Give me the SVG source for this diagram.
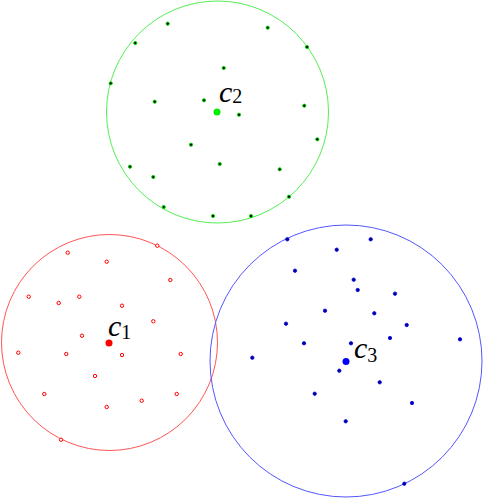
<svg xmlns="http://www.w3.org/2000/svg" width="483" height="499" viewBox="0 0 483 499">
<style>
.bound{fill:none;stroke-width:1}
.g{stroke:#55ee55}
.r{stroke:#ff5555}
.b{stroke:#5555ff}
.gp{fill:#000;stroke:#00dd00;stroke-width:1}
.rp{fill:#fff;stroke:#ff0000;stroke-width:1}
.bp{fill:#000080;stroke:#0000ff;stroke-width:0.8}
.lab{font-family:"Liberation Serif",serif;fill:#000}
.c{font-style:italic;font-size:30px}
.n{font-size:20px}
</style>
<rect width="483" height="499" fill="#fff"/>
<g id="cluster2">
<circle class="bound g" cx="217.5" cy="112" r="111"/>
<g>
<circle class="gp" cx="167.7" cy="23.7" r="1.6"/>
<circle class="gp" cx="267.7" cy="27.7" r="1.6"/>
<circle class="gp" cx="135.3" cy="43" r="1.6"/>
<circle class="gp" cx="307" cy="47" r="1.6"/>
<circle class="gp" cx="223.7" cy="68" r="1.6"/>
<circle class="gp" cx="110.7" cy="83.3" r="1.6"/>
<circle class="gp" cx="154.7" cy="101.7" r="1.6"/>
<circle class="gp" cx="204" cy="100.3" r="1.6"/>
<circle class="gp" cx="304.3" cy="105.7" r="1.6"/>
<circle class="gp" cx="239" cy="114.7" r="1.6"/>
<circle class="gp" cx="317.3" cy="139.3" r="1.6"/>
<circle class="gp" cx="191" cy="144.7" r="1.6"/>
<circle class="gp" cx="219.7" cy="164" r="1.6"/>
<circle class="gp" cx="130" cy="166.7" r="1.6"/>
<circle class="gp" cx="279.7" cy="169.3" r="1.6"/>
<circle class="gp" cx="153.3" cy="177" r="1.6"/>
<circle class="gp" cx="289" cy="196.7" r="1.6"/>
<circle class="gp" cx="163.7" cy="207" r="1.6"/>
<circle class="gp" cx="213" cy="216" r="1.6"/>
<circle class="gp" cx="251" cy="216" r="1.6"/>
</g>
<circle cx="217" cy="112" r="3.5" fill="#00ee00"/>
<text class="lab" x="219" y="101.7"><tspan class="c">c</tspan><tspan class="n" dy="1.5">2</tspan></text>
</g>
<g id="cluster1">
<circle class="bound r" cx="109.5" cy="342.5" r="108"/>
<g>
<circle class="rp" cx="157.3" cy="245.7" r="1.7"/>
<circle class="rp" cx="67.7" cy="252.7" r="1.7"/>
<circle class="rp" cx="106.7" cy="261.7" r="1.7"/>
<circle class="rp" cx="170.3" cy="280" r="1.7"/>
<circle class="rp" cx="28.7" cy="296.7" r="1.7"/>
<circle class="rp" cx="58.7" cy="303" r="1.7"/>
<circle class="rp" cx="79.3" cy="296.7" r="1.7"/>
<circle class="rp" cx="122" cy="305.7" r="1.7"/>
<circle class="rp" cx="153.3" cy="321.3" r="1.7"/>
<circle class="rp" cx="82" cy="335.7" r="1.7"/>
<circle class="rp" cx="18.3" cy="352.7" r="1.7"/>
<circle class="rp" cx="66.3" cy="354" r="1.7"/>
<circle class="rp" cx="122" cy="355" r="1.7"/>
<circle class="rp" cx="180.7" cy="354" r="1.7"/>
<circle class="rp" cx="95" cy="376" r="1.7"/>
<circle class="rp" cx="44.3" cy="394" r="1.7"/>
<circle class="rp" cx="176.7" cy="394" r="1.7"/>
<circle class="rp" cx="141.7" cy="400.7" r="1.7"/>
<circle class="rp" cx="106.7" cy="407" r="1.7"/>
<circle class="rp" cx="61" cy="439.7" r="1.7"/>
</g>
<circle cx="109" cy="343" r="3.5" fill="#ff0000"/>
<text class="lab" x="108" y="336"><tspan class="c">c</tspan><tspan class="n" dy="3">1</tspan></text>
</g>
<g id="cluster3">
<circle class="bound b" cx="346" cy="361" r="136"/>
<g>
<circle class="bp" cx="287.3" cy="239.3" r="1.7"/>
<circle class="bp" cx="370.7" cy="239.3" r="1.7"/>
<circle class="bp" cx="336.7" cy="249.7" r="1.7"/>
<circle class="bp" cx="295" cy="270.7" r="1.7"/>
<circle class="bp" cx="353.7" cy="279.7" r="1.7"/>
<circle class="bp" cx="357.7" cy="290" r="1.7"/>
<circle class="bp" cx="395" cy="293.7" r="1.7"/>
<circle class="bp" cx="325" cy="310.7" r="1.7"/>
<circle class="bp" cx="374.3" cy="313.3" r="1.7"/>
<circle class="bp" cx="286" cy="323.7" r="1.7"/>
<circle class="bp" cx="406.7" cy="325" r="1.7"/>
<circle class="bp" cx="390" cy="338" r="1.7"/>
<circle class="bp" cx="460" cy="339.3" r="1.7"/>
<circle class="bp" cx="304" cy="343.3" r="1.7"/>
<circle class="bp" cx="351" cy="343.3" r="1.7"/>
<circle class="bp" cx="252.3" cy="357.7" r="1.7"/>
<circle class="bp" cx="339.3" cy="370.7" r="1.7"/>
<circle class="bp" cx="379.7" cy="382.3" r="1.7"/>
<circle class="bp" cx="314.7" cy="393.7" r="1.7"/>
<circle class="bp" cx="412" cy="403" r="1.7"/>
<circle class="bp" cx="345.7" cy="421.3" r="1.7"/>
<circle class="bp" cx="404.3" cy="483.7" r="1.7"/>
</g>
<circle cx="346" cy="361.5" r="3.5" fill="#0000ff"/>
<text class="lab" x="354" y="358.3"><tspan class="c">c</tspan><tspan class="n" dy="4">3</tspan></text>
</g>
</svg>
